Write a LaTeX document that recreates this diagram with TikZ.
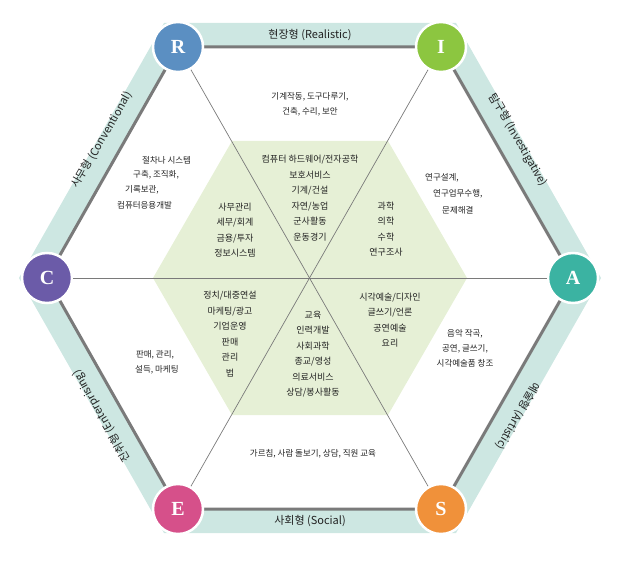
\documentclass[tikz,border=0pt]{standalone}
\usepackage{fontspec}
\setmainfont{Liberation Serif}
\newfontfamily\kr{Noto Sans CJK KR}
\usetikzlibrary{positioning}
\definecolor{bandc}{HTML}{CDE7E2}
\definecolor{greenc}{HTML}{E6F0D6}
\definecolor{edgec}{HTML}{7A7A7A}
\definecolor{rc}{HTML}{5B8FC2}
\definecolor{ic}{HTML}{8CC640}
\definecolor{ac}{HTML}{3BB3A2}
\definecolor{sc}{HTML}{F0913A}
\definecolor{ec}{HTML}{D6508A}
\definecolor{cc}{HTML}{6B5BA8}
\definecolor{txtc}{HTML}{222222}
\tikzset{
  letter/.style={circle, draw=white, line width=2.5pt, minimum size=50pt, inner sep=0pt,
    text=white, font=\fontsize{20}{20}\selectfont\bfseries},
  bandtext/.style={font=\kr\fontsize{11}{11}\selectfont, text=txtc},
  inbox/.style={font=\kr\fontsize{9}{15.5}\selectfont, align=center, text=txtc, inner sep=0pt},
  outbox/.style={font=\kr\fontsize{8.5}{15}\selectfont, align=center, text=txtc, inner sep=0pt},
  outline/.style={font=\kr\fontsize{8.5}{10}\selectfont, text=txtc, inner sep=0pt, anchor=west},
  spoke/.style={draw=edgec, line width=0.7pt}
}
\begin{document}
\begin{tikzpicture}[x=1pt,y=-1pt]
	\useasboundingbox (0,0) rectangle (628,577);
	% band and inner hexagon
	\fill[bandc, even odd rule] (164,23) -- (456,23) -- (601,278) -- (456,533) -- (164,533) -- (19,278) -- cycle
		(178,47) -- (441,47) -- (573,278) -- (441,509) -- (178,509) -- (47,278) -- cycle;
	\fill[greenc] (153,278) -- (232,141) -- (388,141) -- (467,278) -- (388,415) -- (232,415) -- cycle;
	\draw[edgec, line width=3pt, line join=round] (178,47) -- (441,47) -- (573,278) -- (441,509) -- (178,509) -- (47,278) -- cycle;
	% letters
	\node[letter, fill=rc] (R) at (178,47) {R};
	\node[letter, fill=ic] (I) at (441,47) {I};
	\node[letter, fill=ac] (A) at (573,278) {A};
	\node[letter, fill=sc] (S) at (441,509) {S};
	\node[letter, fill=ec] (E) at (178,509) {E};
	\node[letter, fill=cc] (C) at (47,278) {C};
	\draw[spoke] (R) -- (S); \draw[spoke] (I) -- (E); \draw[spoke] (C) -- (A);
	% band labels
	\node[bandtext] (realistic) at (310,35) {현장형 (Realistic)};
	\node[bandtext, rotate=-60] (investigative) at (518,140) {탐구형 (Investigative)};
	\node[bandtext, rotate=-120] (artistic) at (518,416) {예술형 (Artistic)};
	\node[bandtext] (social) at (310,521) {사회형 (Social)};
	\node[bandtext, rotate=120] (enterprising) at (102,416) {진취형 (Enterprising)};
	\node[bandtext, rotate=60] (conventional) at (102,140) {사무형 (Conventional)};
	% inner texts
	\node[inbox] (rin) at (310,198) {컴퓨터 하드웨어/전자공학\\보호서비스\\기계/건설\\자연/농업\\군사활동\\운동경기};
	\node[inbox] (cin) at (235,230) {사무관리\\세무/회계\\금용/투자\\정보시스템};
	\node[inbox] (iin) at (386,229) {과학\\의학\\수학\\연구조사};
	\node[inbox] (ein) at (230,334) {정치/대중연설\\마케팅/광고\\기업운영\\판매\\관리\\법};
	\node[inbox] (ain) at (390,320) {시각예술/디자인\\글쓰기/언론\\공연예술\\요리};
	\node[inbox] (sin) at (313,354) {교육\\인력개발\\사회과학\\종교/영성\\의료서비스\\상담/봉사활동};
	% outer texts
	\node[outbox] (rout) at (310,104) {기계작동, 도구다루기,\\건축, 수리, 보안};
	\node[outline] (cout1) at (142,160) {절차나 시스템};
	\node[outline] (cout2) at (133,175) {구축, 조직화,};
	\node[outline] (cout3) at (125,190) {기록보관,};
	\node[outline] (cout4) at (117,205) {컴퓨터응용개발};
	\node[outline] (iout1) at (425,178) {연구설계,};
	\node[outline] (iout2) at (433,194) {연구업무수행,};
	\node[outline] (iout3) at (442,210) {문제해결};
	\node[outbox] (aout) at (465,348) {음악 작곡,\\공연, 글쓰기,\\시각예술품 창조};
	\node[outbox] (eout) at (155,362) {판매, 관리,\\\ \ 설득, 마케팅};
	\node[outbox] (sout) at (313,454) {가르침, 사람 돌보기, 상담, 직원 교육};
\end{tikzpicture}
\end{document}
